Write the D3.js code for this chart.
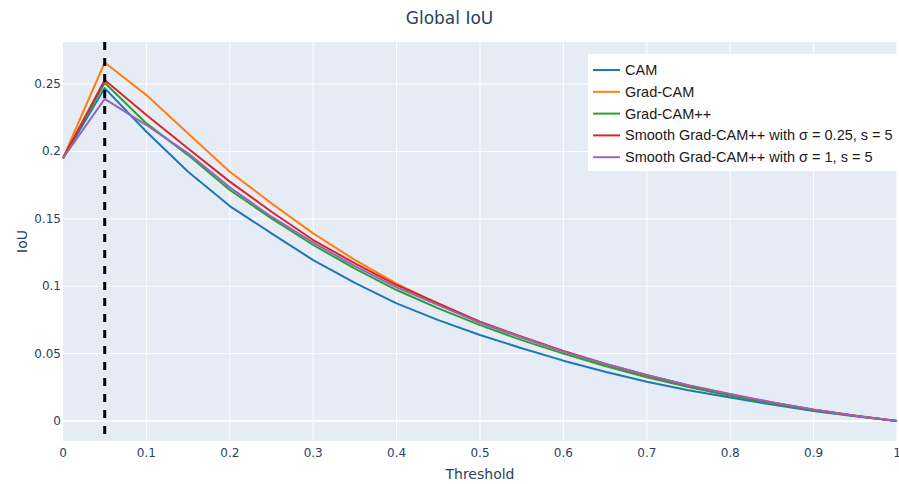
<!DOCTYPE html>
<html>
<head>
  <meta charset="UTF-8">
  <style>
    body { margin: 0; background: white; }
    text { font-family: "DejaVu Sans", Verdana, sans-serif; fill: #2a3f5f; }
    .legend text { font-family: "Liberation Sans", Arial, sans-serif; fill: #1a1a1a; }
  </style>
</head>
<body>
<svg></svg>
<script src="https://d3js.org/d3.v7.min.js"></script>
<script>

// thresholds 0, 0.05, ... 1
let thresholds = d3.range(21).map(i => i / 20);

let seriesNames = [
  "CAM",
  "Grad-CAM",
  "Grad-CAM++",
  "Smooth Grad-CAM++ with σ = 0.25, s = 5",
  "Smooth Grad-CAM++ with σ = 1, s = 5"
];
let seriesColors = ["#1f77b4", "#ff7f0e", "#2ca02c", "#d62728", "#9467bd"];

let cam        = [0.195, 0.247, 0.2146, 0.185, 0.1595, 0.1392, 0.1194, 0.1025, 0.0873, 0.0749, 0.0638, 0.054, 0.0448, 0.0366, 0.0292, 0.0229, 0.0175, 0.0122, 0.0075, 0.0035, 0];
let gradCam    = [0.195, 0.266, 0.2418, 0.2134, 0.185, 0.1615, 0.1392, 0.1195, 0.102, 0.087, 0.0729, 0.062, 0.0515, 0.042, 0.0336, 0.026, 0.0195, 0.0136, 0.0083, 0.004, 0];
let gradCamPP  = [0.195, 0.251, 0.2208, 0.1973, 0.1714, 0.1503, 0.1306, 0.113, 0.0972, 0.0836, 0.0712, 0.060, 0.050, 0.0408, 0.0324, 0.0252, 0.0188, 0.013, 0.008, 0.0037, 0];
let smooth025  = [0.195, 0.253, 0.227, 0.2022, 0.1776, 0.1553, 0.1343, 0.117, 0.1009, 0.0873, 0.0737, 0.0625, 0.052, 0.0425, 0.034, 0.0264, 0.0198, 0.0138, 0.0084, 0.004, 0];
let smooth1    = [0.195, 0.239, 0.2196, 0.1986, 0.1734, 0.1516, 0.1323, 0.115, 0.0992, 0.086, 0.0729, 0.062, 0.0515, 0.0425, 0.0341, 0.0265, 0.02, 0.014, 0.0085, 0.004, 0];

let xTicks = [0, 0.1, 0.2, 0.3, 0.4, 0.5, 0.6, 0.7, 0.8, 0.9, 1];
let yTicks = [0, 0.05, 0.1, 0.15, 0.2, 0.25];
let markerX = 0.05;

let allSeries = [cam, gradCam, gradCamPP, smooth025, smooth1];

let width = 899, height = 484;
let margin = {left: 63, right: 2, top: 42, bottom: 43};

let svg = d3.select("svg")
    .attr("width", width)
    .attr("height", height);

let x = d3.scaleLinear()
    .domain([0, 1])
    .range([margin.left, width - margin.right]);

let y = d3.scaleLinear()
    .domain([-0.0148, 0.2812])
    .range([height - margin.bottom, margin.top]);

// plot background
svg.append("rect")
    .attr("x", margin.left)
    .attr("y", margin.top)
    .attr("width", width - margin.left - margin.right)
    .attr("height", height - margin.top - margin.bottom)
    .attr("fill", "#E5ECF6");

// grid
svg.append("g")
    .selectAll("line")
    .data(xTicks.slice(1))
    .enter()
    .append("line")
      .attr("x1", d => x(d)).attr("x2", d => x(d))
      .attr("y1", margin.top).attr("y2", height - margin.bottom)
      .attr("stroke", "white")
      .attr("stroke-width", 1);

svg.append("g")
    .selectAll("line")
    .data(yTicks)
    .enter()
    .append("line")
      .attr("x1", margin.left).attr("x2", width - margin.right)
      .attr("y1", d => y(d)).attr("y2", d => y(d))
      .attr("stroke", "white")
      .attr("stroke-width", d => d == 0 ? 2 : 1);

// tick labels
svg.append("g")
    .selectAll("text")
    .data(xTicks)
    .enter()
    .append("text")
      .attr("x", d => x(d))
      .attr("y", height - margin.bottom + 16)
      .attr("text-anchor", "middle")
      .style("font-size", "12px")
      .text(d => d3.format("")(d));

svg.append("g")
    .selectAll("text")
    .data(yTicks)
    .enter()
    .append("text")
      .attr("x", margin.left - 2)
      .attr("y", d => y(d) + 4)
      .attr("text-anchor", "end")
      .style("font-size", "12px")
      .text(d => d3.format("")(d));

// lines
let line = d3.line()
    .x((d, i) => x(thresholds[i]))
    .y(d => y(d));

svg.append("g")
    .selectAll("path")
    .data(allSeries)
    .enter()
    .append("path")
      .attr("d", d => line(d))
      .attr("fill", "none")
      .attr("stroke", (d, i) => seriesColors[i])
      .attr("stroke-width", 2)
      .attr("stroke-linejoin", "round");

// dashed threshold marker
svg.append("line")
    .attr("x1", x(markerX)).attr("x2", x(markerX))
    .attr("y1", margin.top).attr("y2", height - margin.bottom)
    .attr("stroke", "black")
    .attr("stroke-width", 3)
    .attr("stroke-dasharray", "8,8");

// titles
svg.append("text")
    .attr("x", width / 2)
    .attr("y", 24)
    .attr("text-anchor", "middle")
    .style("font-size", "17px")
    .text("Global IoU");

svg.append("text")
    .attr("x", (x(0) + x(1)) / 2)
    .attr("y", 479)
    .attr("text-anchor", "middle")
    .style("font-size", "14px")
    .text("Threshold");

svg.append("text")
    .attr("transform", "translate(27," + ((y.range()[0] + y.range()[1]) / 2) + ") rotate(-90)")
    .attr("text-anchor", "middle")
    .style("font-size", "14px")
    .text("IoU");

// legend
let legend = svg.append("g")
    .attr("class", "legend")
    .attr("transform", "translate(588,54)");

legend.append("rect")
    .attr("width", 309)
    .attr("height", 117)
    .attr("fill", "white");

let item = legend.selectAll("g")
    .data(seriesNames)
    .enter()
    .append("g")
      .attr("transform", (d, i) => "translate(0," + (16 + i * 21.8) + ")");

item.append("line")
    .attr("x1", 5).attr("x2", 32)
    .attr("stroke", (d, i) => seriesColors[i])
    .attr("stroke-width", 2);

item.append("text")
    .attr("x", 37)
    .attr("y", 5)
    .style("font-size", "14.5px")
    .text(d => d);

</script>
</body>
</html>
